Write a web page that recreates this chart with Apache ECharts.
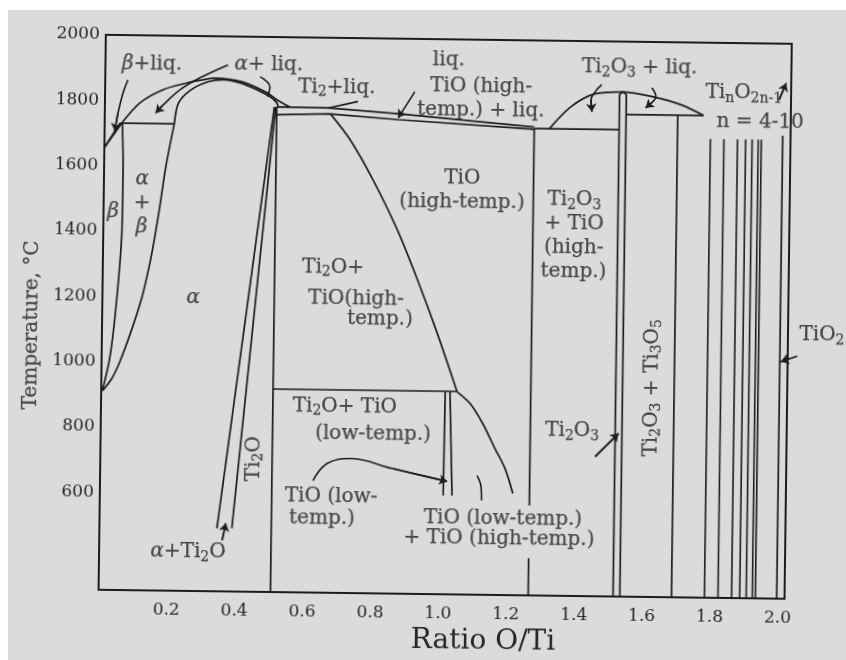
<!DOCTYPE html>
<html><head><meta charset="utf-8">
<script src="https://cdn.jsdelivr.net/npm/echarts@6/dist/echarts.min.js"></script>
<style>
html,body{margin:0;padding:0;background:#fff;width:846px;height:660px;overflow:hidden;}
#page{position:absolute;left:8px;top:10px;right:0;bottom:0;background:#dadcd9;}
#chart{position:absolute;left:0;top:0;width:846px;height:660px;transform:rotate(0.75deg);transform-origin:423px 330px;}
</style></head><body><div id="page"></div><div id="chart"></div>
<script>
// ---- axis ticks ----
const xTicks = [0.2, 0.4, 0.6, 0.8, 1.0, 1.2, 1.4, 1.6, 1.8, 2.0];
const yTicks = [600, 800, 1000, 1200, 1400, 1600, 1800, 2000];

// ---- phase boundaries, [O/Ti ratio, temperature °C] ----
const tiMeltLiquidus = [[0, 1655], [0.05, 1730]];
const betaSolidus = [[0, 1655], [0.045, 1730]];
const peritecticAlpha = [[0.045, 1730], [0.205, 1730]];
const betaTransus = [[0.052, 1730], [0.056, 1590], [0.055, 1405], [0.043, 1200], [0.025, 1017], [0.004, 912]];
const alphaTransus = [[0.205, 1730], [0.182, 1600], [0.166, 1480], [0.153, 1390], [0.139, 1305], [0.117, 1200], [0.088, 1100], [0.054, 1000], [0.031, 948], [0.004, 910]];
const alphaLiquidus = [[0.05, 1730], [0.103, 1793], [0.170, 1834], [0.241, 1856], [0.288, 1866], [0.323, 1872], [0.405, 1861], [0.477, 1829], [0.506, 1808], [0.545, 1786]];
const alphaSolidus = [[0.205, 1730], [0.217, 1795], [0.253, 1835], [0.302, 1860], [0.349, 1867], [0.398, 1858], [0.447, 1838], [0.486, 1817], [0.506, 1799], [0.51, 1786]];
const alphaTi2OLeft = [[0.499, 1786], [0.346, 493]];
const alphaTi2ORight = [[0.503, 1786], [0.390, 494]];
const ti2oRight = [[0.506, 1786], [0.506, 300]];
const liquidusMid = [[0.506, 1786], [0.655, 1785], [0.865, 1770], [1.265, 1735]];
const solidusMid = [[0.506, 1762], [0.66, 1767], [0.865, 1752], [1.265, 1728]];
const tioHighLeft = [[0.665, 1766], [0.723, 1689], [0.792, 1567], [0.865, 1416], [0.926, 1265], [0.986, 1103], [1.048, 921]];
const tioHighLow = [[1.048, 921], [1.087, 885], [1.125, 824], [1.162, 748], [1.192, 688], [1.216, 612]];
const monotectoid = [[0.506, 922], [1.048, 922]];
const tioLowLeft = [[1.013, 921], [1.011, 603]];
const tioLowRight = [[1.027, 921], [1.037, 603]];
const tioHighRightUpper = [[1.265, 1730], [1.265, 576]];
const tioHighRightLower = [[1.265, 414], [1.265, 300]];
const eutecticTi2O3 = [[1.265, 1730], [1.515, 1730]];
const ti2o3Liquidus = [[1.31, 1731], [1.372, 1798], [1.439, 1838], [1.525, 1846], [1.614, 1832], [1.696, 1809], [1.763, 1777]];
const ti2o3Phase = [[1.515, 300], [1.515, 1838], [1.525, 1846], [1.535, 1838], [1.535, 300]];
const peritecticTi3O5 = [[1.535, 1777], [1.763, 1777]];
const ti3o5Line = [[1.687, 1777], [1.687, 300]];
const magneliX = [1.784, 1.824, 1.864, 1.888, 1.907, 1.925, 1.934];
const magneliRange = [300, 1705];
const tio2Line = [[1.997, 1718], [1.997, 300]];

// ---- leader lines ----
const leaderBetaLiq = [[0.067, 1863], [0.053, 1823], [0.039, 1762], [0.03, 1705]];
const leaderAlphaLiqA = [[0.361, 1913], [0.279, 1872], [0.221, 1835], [0.170, 1786], [0.150, 1763]];
const leaderAlphaLiqB = [[0.456, 1878], [0.485, 1847], [0.479, 1817]];
const leaderTi2Liq = [[0.745, 1806], [0.655, 1784]];
const leaderTioLiq = [[0.912, 1838], [0.875, 1776], [0.864, 1758]];
const leaderTi2O3LiqL = [[1.462, 1867], [1.443, 1845], [1.431, 1820], [1.434, 1784]];
const leaderTi2O3LiqR = [[1.610, 1860], [1.622, 1832], [1.610, 1814], [1.592, 1798]];
const leaderTio2Top = [[1.985, 1828], [2.005, 1879]];
const leaderAlphaTi2O = [[0.362, 457], [0.372, 509]];
const leaderTioLow = [[0.627, 643], [0.668, 696], [0.736, 712], [0.862, 683], [1.022, 646]];
const leaderTioMix = [[1.110, 665], [1.122, 632], [1.124, 589]];
const leaderTi2O3 = [[1.457, 728], [1.525, 800]];
const leaderTiO2 = [[2.080, 1060], [2.048, 1044], [2.0, 1026]];

// ---- text labels [O/Ti, °C, text] ----
const regionLabels = [
  [0.137, 1913, '{g|β}+liq.'],
  [0.481, 1915, '{g|α}+ liq.'],
  [1.011, 1937, 'liq.'],
  [0.682, 1848, 'Ti{s|2}+liq.'],
  [1.107, 1819, 'TiO (high-\ntemp.) + liq.'],
  [1.055, 1538, 'TiO\n(high-temp.)'],
  [1.573, 1920, 'Ti{s|2}O{s|3} + liq.'],
  [1.881, 1846, 'Ti{s|n}O{s|2n-1}'],
  [1.930, 1760, 'n = 4-10'],
  [1.386, 1402, 'Ti{s|2}O{s|3}\n+ TiO\n(high-\ntemp.)'],
  [0.267, 1197, '{g|α}'],
  [0.113, 1486, '{g|α}\n+\n{g|β}'],
  [0.028, 1460, '{g|β}'],
  [0.678, 1297, 'Ti{s|2}O+'],
  [0.747, 1201, 'TiO(high-'],
  [0.818, 1140, 'temp.)'],
  [0.718, 871, 'Ti{s|2}O+ TiO'],
  [0.802, 789, '(low-temp.)'],
  [0.262, 420, '{g|α}+Ti{s|2}O'],
  [0.681, 595, 'TiO (low-'],
  [0.655, 528, 'temp.)'],
  [1.188, 535, 'TiO (low-temp.)'],
  [1.177, 471, '+ TiO (high-temp.)'],
  [1.388, 806, 'Ti{s|2}O{s|3}'],
  [2.120, 1109, 'TiO{s|2}']
];
const verticalLabels = [
  [0.453, 708, 'Ti{s|2}O'],
  [1.622, 941, 'Ti{s|2}O{s|3} + Ti{s|3}O{s|5}'],
  [-0.206, 1109, 'Temperature, °C']
];

// ---- build ----
const ink = '#1c1c1c';
const txt = '#262626';
const face = 'DejaVu Serif';
const rich = {
  s: { fontFamily: face, fontSize: 14, color: txt, lineHeight: 10, verticalAlign: 'bottom' },
  g: { fontFamily: face, fontStyle: 'italic', fontSize: 20, color: txt, lineHeight: 24 }
};
function curve(data, smooth, width) {
  return { type: 'line', data: data, smooth: smooth || false, showSymbol: false, symbol: 'none', clip: false,
    lineStyle: { color: ink, width: width || 1.7 }, silent: true, z: 3, animation: false };
}
const series = [];
const straight = [tiMeltLiquidus, betaSolidus, peritecticAlpha, alphaTi2OLeft, alphaTi2ORight, ti2oRight, liquidusMid, solidusMid,
  monotectoid, tioLowLeft, tioLowRight, tioHighRightUpper, tioHighRightLower, eutecticTi2O3, ti2o3Phase, peritecticTi3O5, ti3o5Line, tio2Line];
straight.forEach(d => series.push(curve(d, false)));
[betaTransus, alphaTransus, alphaLiquidus, alphaSolidus, tioHighLeft, tioHighLow, ti2o3Liquidus].forEach(d => series.push(curve(d, 0.3)));
magneliX.forEach(x => series.push(curve([[x, magneliRange[0]], [x, magneliRange[1]]], false, 1.6)));

const arrowLeaders = [leaderBetaLiq, leaderAlphaLiqA, leaderTioLiq, leaderTi2O3LiqL, leaderTi2O3LiqR, leaderTio2Top, leaderAlphaTi2O, leaderTioLow, leaderTi2O3, leaderTiO2];
const plainLeaders = [leaderAlphaLiqB, leaderTi2Liq, leaderTioMix];
arrowLeaders.concat(plainLeaders).forEach(d => series.push(curve(d, 0.4, 1.6)));
series.push({
  type: 'lines', coordinateSystem: 'cartesian2d', polyline: false, clip: false, silent: true, z: 4, animation: false,
  symbol: ['none', 'arrow'], symbolSize: 8,
  lineStyle: { color: ink, width: 1.6, opacity: 1 },
  data: arrowLeaders.map(p => ({ coords: [p[p.length - 2], p[p.length - 1]] }))
});

function labelSeries(list, rotate) {
  return {
    type: 'scatter', symbolSize: 1, clip: false, silent: true, z: 5, animation: false,
    itemStyle: { color: 'rgba(0,0,0,0)' },
    data: list.map(l => ({ value: [l[0], l[1]], name: l[2] })),
    label: {
      show: true, position: 'inside', rotate: rotate, formatter: p => p.name,
      fontFamily: face, fontSize: 20, color: txt, lineHeight: 24, align: 'center', verticalAlign: 'middle',
      textBorderColor: txt, textBorderWidth: 0.25, rich: rich
    }
  };
}
series.push(labelSeries(regionLabels, 0));
series.push(labelSeries(verticalLabels, 90));

const chart = echarts.init(document.getElementById('chart'), null, { renderer: 'canvas' });
chart.setOption({
  animation: false,
  backgroundColor: 'transparent',
  grid: { left: 102, right: 58, top: 39, bottom: 64, show: true, borderColor: ink, borderWidth: 2, backgroundColor: 'transparent' },
  xAxis: {
    type: 'value', min: 0, max: 2.02,
    name: 'Ratio O/Ti', nameLocation: 'middle', nameGap: 28,
    nameTextStyle: { fontFamily: face, fontSize: 28, color: txt, padding: [0, 0, 0, 84] },
    axisLine: { show: false }, axisTick: { show: false }, splitLine: { show: false },
    axisLabel: { customValues: xTicks, formatter: v => v.toFixed(1), fontFamily: face, fontSize: 17, color: txt, margin: 11 }
  },
  yAxis: {
    type: 'value', min: 300, max: 2000,
    axisLine: { show: false }, axisTick: { show: false }, splitLine: { show: false },
    axisLabel: { customValues: yTicks, formatter: v => String(v), fontFamily: face, fontSize: 17, color: txt, margin: 6 }
  },
  series: series
});
</script></body></html>
